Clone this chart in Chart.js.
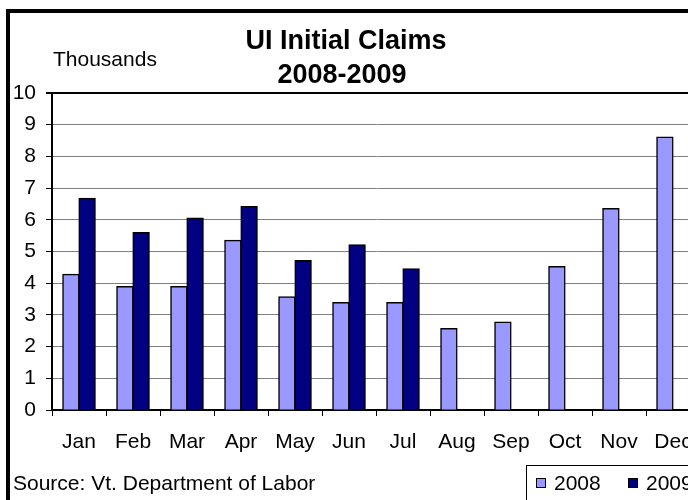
<!DOCTYPE html>
<html>
<head>
<meta charset="utf-8">
<script src="https://cdn.jsdelivr.net/npm/chart.js@4.4.0/dist/chart.umd.min.js"></script>
<style>
    body { margin: 0; overflow: hidden; background: #fff; }
    #chart { display: block; }
</style>
</head>
<body>
<canvas id="chart" width="720" height="500"></canvas>
<script>
const months = ['Jan', 'Feb', 'Mar', 'Apr', 'May', 'Jun', 'Jul', 'Aug', 'Sep', 'Oct', 'Nov', 'Dec'];
const claims2008 = [4.28, 3.89, 3.89, 5.35, 3.57, 3.39, 3.39, 2.57, 2.77, 4.52, 6.35, 8.61];
const claims2009 = [6.68, 5.60, 6.05, 6.42, 4.71, 5.21, 4.45, null, null, null, null, null];
const titleLines = ['UI Initial Claims', '2008-2009'];
const sourceText = 'Source: Vt. Department of Labor';

const FONT = '"Liberation Sans", Arial, sans-serif';

const decorations = {
    id: 'decorations',
    afterDraw(chart) {
        const c = chart.ctx;
        c.save();
        // outer frame (left and top visible)
        c.fillStyle = '#000';
        c.fillRect(6, 9, 4, 500);
        c.fillRect(6, 9, 720, 4);

        c.fillStyle = '#000';
        c.textBaseline = 'middle';
        c.textAlign = 'center';
        c.font = 'bold 27px ' + FONT;
        c.fillText(titleLines[0], 346, 42);
        c.fillText(titleLines[1], 342, 76);

        c.textAlign = 'left';
        c.font = '21px ' + FONT;
        c.fillText('Thousands', 53, 60);
        c.fillText(sourceText, 13, 484);

        // legend box
        c.strokeStyle = '#000';
        c.lineWidth = 1;
        c.strokeRect(526.5, 465.5, 200, 60);
        const items = [
            { label: '2008', color: chart.data.datasets[0].backgroundColor, x: 536 },
            { label: '2009', color: chart.data.datasets[1].backgroundColor, x: 628 }
        ];
        items.forEach(it => {
            c.fillStyle = it.color;
            c.fillRect(it.x, 478, 10, 10);
            c.strokeRect(it.x + 0.5, 478.5, 9, 9);
            c.fillStyle = '#000';
            c.fillText(it.label, it.x + 18, 484);
        });
        c.restore();
    }
};

const ctx = document.getElementById('chart').getContext('2d');
const chart = new Chart(ctx, {
    type: 'bar',
    data: {
        labels: months,
        datasets: [{
            label: '2008',
            data: claims2008,
            backgroundColor: '#9999FF',
            borderColor: '#000',
            borderWidth: 1.5,
            borderSkipped: 'bottom',
            inflateAmount: 0.6,
            categoryPercentage: 0.6,
            barPercentage: 1.0
        }, {
            label: '2009',
            data: claims2009,
            backgroundColor: '#000080',
            borderColor: '#000',
            borderWidth: 1.5,
            borderSkipped: 'bottom',
            inflateAmount: 0.6,
            categoryPercentage: 0.6,
            barPercentage: 1.0
        }]
    },
    options: {
        responsive: false,
        animation: false,
        layout: {
            padding: { left: 0, right: 20, top: 93, bottom: 40 }
        },
        scales: {
            y: {
                min: 0,
                max: 10,
                afterFit: (scale) => { scale.width = 52; },
                ticks: {
                    stepSize: 1,
                    color: '#000',
                    padding: 10,
                    font: { family: FONT, size: 21 }
                },
                grid: {
                    color: (c) => c.tick && c.tick.value === 10 ? '#000' : '#808080',
                    lineWidth: (c) => c.tick && c.tick.value === 10 ? 2 : 1,
                    tickColor: '#000',
                    tickLength: 6
                },
                border: { color: '#000', width: 2 }
            },
            x: {
                afterFit: (scale) => { scale.height = 50; },
                ticks: {
                    color: '#000',
                    padding: 14,
                    maxRotation: 0,
                    autoSkip: false,
                    font: { family: FONT, size: 21 }
                },
                grid: {
                    offset: true,
                    drawOnChartArea: false,
                    tickColor: '#000',
                    tickLength: 6
                },
                border: { color: '#000', width: 2 }
            }
        },
        plugins: {
            legend: { display: false },
            title: { display: false },
            tooltip: { enabled: false }
        }
    },
    plugins: [decorations]
});
</script>
</body>
</html>
